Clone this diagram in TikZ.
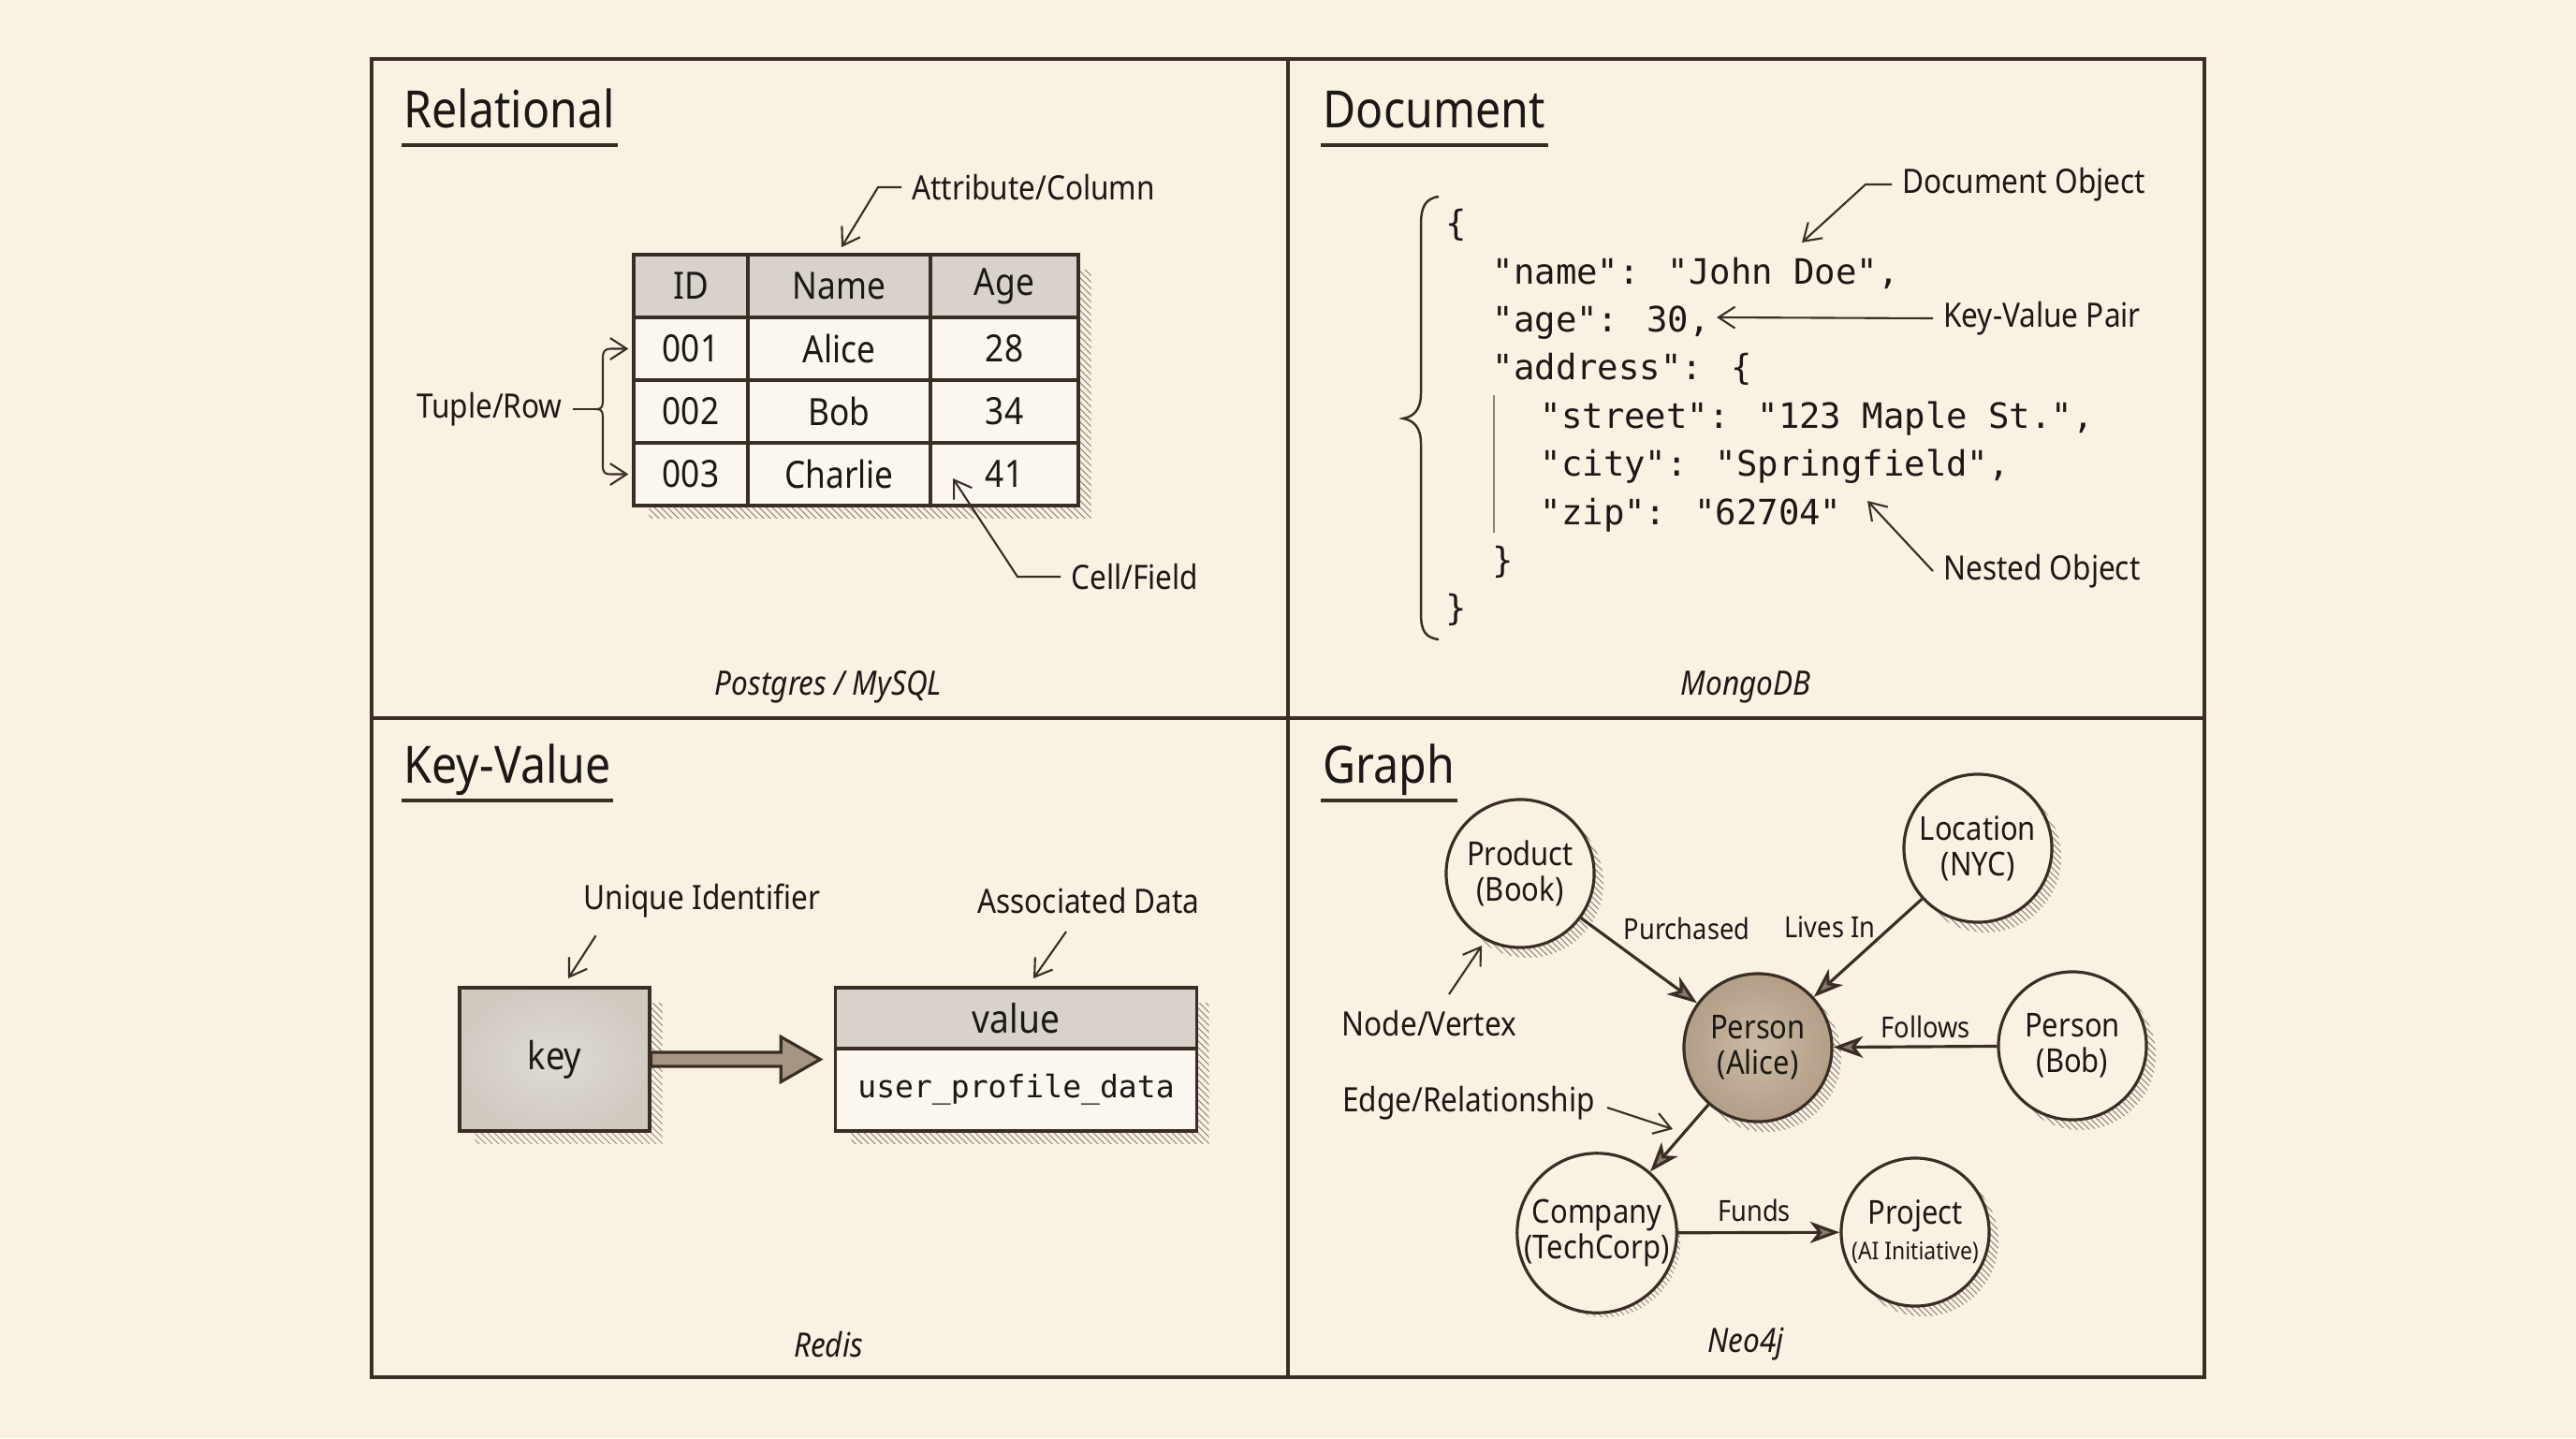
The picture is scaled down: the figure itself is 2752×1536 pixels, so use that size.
\documentclass[tikz,border=0pt]{standalone}
\usepackage{fontspec}
\setmainfont{Noto Sans}[FakeStretch=0.88]
\newfontfamily\monofont{DejaVu Sans Mono}
\usetikzlibrary{arrows.meta,calc}
\pgfdeclarelayer{bgl}
\pgfdeclarelayer{shd}
\pgfsetlayers{bgl,shd,main}
\definecolor{bgc}{HTML}{F9F1E2}
\definecolor{linec}{HTML}{3A2D24}
\definecolor{textc}{HTML}{1C1815}
\definecolor{headc}{HTML}{D8D2CA}
\definecolor{cellc}{HTML}{FBF7EF}
\definecolor{hatchc}{HTML}{968A80}
\definecolor{alicein}{HTML}{CCBBA4}
\definecolor{aliceout}{HTML}{B39E86}
\definecolor{keyin}{HTML}{E0DBD3}
\definecolor{keyout}{HTML}{D0CAC1}
\definecolor{arrfill}{HTML}{A69681}
\definecolor{tipfill}{HTML}{8A7B6D}
\definecolor{guidec}{HTML}{8C8178}
\newcommand\ttlfont{\fontsize{15.6}{18}\selectfont}
\newcommand\tabfont{\fontsize{11.4}{13}\selectfont}
\newcommand\lblfont{\fontsize{10.2}{12}\selectfont}
\newcommand\footfont{\fontsize{10.2}{12}\selectfont\itshape}
\newcommand\jsonfont{\monofont\fontsize{10.6}{12}\selectfont}
\newcommand\nodefont{\fontsize{10}{10.8}\selectfont}
\newcommand\elblfont{\fontsize{8.8}{10}\selectfont}
\newcommand\hatchrect[2]{%
  \begin{pgfonlayer}{shd}
  \begin{scope}
  \clip ($(#1)+(18,18)$) rectangle ($(#2)+(12,12)$);
  \foreach \k in {-80,...,45} {\draw[hatch] ($(#2)+(\k*7,0)$) ++(-420,-420) -- ++(460,460);}
  \end{scope}
  \end{pgfonlayer}}
\newcommand\hatchcirc[1]{%
  \begin{pgfonlayer}{shd}
  \begin{scope}
  \clip ($(#1.center)+(9,10)$) circle[radius=0.80cm];
  \foreach \k in {-26,...,26} {\draw[hatch] ($(#1.center)+(\k*6.5,0)$) ++(-200,-200) -- ++(400,400);}
  \end{scope}
  \end{pgfonlayer}}
\begin{document}
\begin{tikzpicture}[x=0.01cm,y=-0.01cm,
  frm/.style={draw=linec, line width=1pt},
  uline/.style={draw=linec, line width=1pt},
  ttl/.style={anchor=base west, inner sep=0pt, font=\ttlfont, text=textc},
  lbl/.style={inner sep=3pt, font=\lblfont, text=textc},
  foot/.style={inner sep=2pt, font=\footfont, text=textc},
  ann/.style={draw=linec, line width=0.6pt, -{Straight Barb[length=5pt,width=6.5pt]}},
  annl/.style={draw=linec, line width=0.6pt},
  hatch/.style={draw=hatchc, line width=0.3pt},
  cell/.style={draw=linec, line width=0.9pt, minimum height=0.67cm, inner sep=0pt, font=\tabfont, text=textc},
  hcell/.style={cell, fill=headc},
  bcell/.style={cell, fill=cellc},
  w1/.style={minimum width=1.22cm},
  w2/.style={minimum width=1.95cm},
  w3/.style={minimum width=1.58cm},
  json/.style={anchor=base west, inner sep=0pt, font=\jsonfont, text=textc},
  bracel/.style={draw=linec, line width=0.7pt},
  guide/.style={draw=guidec, line width=0.35pt},
  gnode/.style={circle, draw=linec, line width=0.9pt, fill=bgc, minimum size=1.58cm, inner sep=0pt, align=center, font=\nodefont, text=textc},
  gedge/.style={draw=linec, line width=0.9pt, -{Stealth[length=9pt,width=6.5pt,inset=2.5pt,fill=tipfill]}},
  elbl/.style={inner sep=1pt, font=\elblfont, text=textc},
  bigarr/.style={draw=linec, line width=0.9pt, fill=arrfill, line join=miter}
]
\begin{pgfonlayer}{bgl}
\fill[bgc] (0,0) rectangle (2752,1536);
\end{pgfonlayer}
\useasboundingbox (0,0) rectangle (2752,1536);

% frame
\draw[frm] (397,63) rectangle (2355,1471);
\draw[frm] (1376,63) -- (1376,1471);
\draw[frm] (397,767) -- (2355,767);

% titles
\node[ttl] (tRel) at (431,136) {Relational};
\node[ttl] (tDoc) at (1413,136) {Document};
\node[ttl] (tKV) at (431,836) {Key-Value};
\node[ttl] (tGr) at (1413,836) {Graph};
\foreach \t in {tRel,tDoc,tKV,tGr}
  \draw[uline] ($(\t.base west)+(-2,19)$) -- ($(\t.base east)+(2,19)$);

% ---------- Relational ----------
\node[hcell,w1] (h1) at (738,305.5) {ID};
\node[hcell,w2] (h2) at (896.5,305.5) {Name};
\node[hcell,w3] (h3) at (1073,305.5) {Age};
\node[bcell,w1] (r1a) at (738,372.5) {001};
\node[bcell,w2] (r1b) at (896.5,372.5) {Alice};
\node[bcell,w3] (r1c) at (1073,372.5) {28};
\node[bcell,w1] (r2a) at (738,439.5) {002};
\node[bcell,w2] (r2b) at (896.5,439.5) {Bob};
\node[bcell,w3] (r2c) at (1073,439.5) {34};
\node[bcell,w1] (r3a) at (738,506.5) {003};
\node[bcell,w2] (r3b) at (896.5,506.5) {Charlie};
\node[bcell,w3] (r3c) at (1073,506.5) {41};
\hatchrect{h1.north west}{r3c.south east}

\node[lbl, anchor=west] (attr) at (963,200) {Attribute/Column};
\coordinate (attrTip) at (899,264);
\draw[ann] (attr.west) -- ++(-25,0) -- (attrTip);

\node[lbl, anchor=east] (tuple) at (612,437) {Tuple/Row};
\draw[annl] (tuple.east) -- (637,437);
\draw[ann] (637,437) .. controls (644,437) and (644,433) .. (644,426) -- (644,383) .. controls (644,375) and (646,372.5) .. (653,372.5) -- ($(r1a.west)+(-4,0)$);
\draw[ann] (637,437) .. controls (644,437) and (644,441) .. (644,448) -- (644,497) .. controls (644,505) and (646,506.5) .. (653,506.5) -- ($(r3a.west)+(-4,0)$);

\node[lbl, anchor=west] (cellf) at (1133,616) {Cell/Field};
\coordinate (cellTip) at (1018,511);
\draw[ann] (cellf.west) -- ++(-46,0) -- (cellTip);

\node[foot] (fRel) at (885,734) {Postgres / MySQL};

% ---------- Document ----------
\draw[bracel] (1537,210) .. controls (1522,212) and (1518,222) .. (1518,240) -- (1518,420) .. controls (1518,438) and (1510,445) .. (1499,447) .. controls (1510,449) and (1518,456) .. (1518,474) -- (1518,655) .. controls (1518,673) and (1522,681) .. (1537,683);
\node[json] (j0) at (1544,251.6) {\{};
\node[json] (j1) at (1594,303) {"name": "John Doe",};
\node[json] (j2) at (1594,354.4) {"age": 30,};
\node[json] (j3) at (1594,405.8) {"address": \{};
\node[json] (j4) at (1645,457.2) {"street": "123 Maple St.",};
\node[json] (j5) at (1645,508.6) {"city": "Springfield",};
\node[json] (j6) at (1645,560) {"zip": "62704"};
\node[json] (j7) at (1594,611.4) {\}};
\node[json] (j8) at (1544,662.8) {\}};
\draw[guide] (1596,422) -- (1596,569);

\node[lbl, anchor=west] (docobj) at (2021,197) {Document Object};
\coordinate (docTip) at (1925,259);
\draw[ann] (docobj.west) -- ++(-28,0) -- (docTip);
\node[lbl, anchor=west] (kvp) at (2065,340) {Key-Value Pair};
\coordinate (kvTip) at (1834,339);
\draw[ann] (kvp.west) -- (kvTip);
\node[lbl, anchor=west] (nest) at (2065,610) {Nested Object};
\coordinate (nestTip) at (1995,535);
\draw[ann] (nest.west) -- (nestTip);

\node[foot] (fDoc) at (1865,734) {MongoDB};

% ---------- Key-Value ----------
\node[draw=linec, line width=0.9pt, inner color=keyin, outer color=keyout, minimum width=2.03cm, minimum height=1.53cm, inner sep=0pt, font=\fontsize{11.7}{13}\selectfont, text=textc] (key) at (592.5,1131.5) {key};
\node[draw=linec, line width=0.9pt, fill=headc, minimum width=3.85cm, minimum height=0.65cm, inner sep=0pt, font=\fontsize{12}{13}\selectfont, text=textc] (valh) at (1085.5,1087.5) {value};
\node[draw=linec, line width=0.9pt, fill=cellc, minimum width=3.85cm, minimum height=0.88cm, inner sep=0pt, font=\monofont\fontsize{9.4}{11}\selectfont, text=textc] (valb) at (1085.5,1164) {user\_profile\_data};
\hatchrect{key.north west}{key.south east}
\hatchrect{valh.north west}{valb.south east}
\coordinate (aS) at (key.east);
\coordinate (aT) at ($(valb.west |- key.east)+(-15,0)$);
\draw[bigarr] ($(aS)+(0,-7.5)$) -- ($(aT)+(-42,-7.5)$) -- ($(aT)+(-42,-24)$) -- (aT) -- ($(aT)+(-42,24)$) -- ($(aT)+(-42,7.5)$) -- ($(aS)+(0,7.5)$) -- cycle;

\node[lbl] (uid) at (750,962) {Unique Identifier};
\coordinate (uidTip) at (607,1045);
\draw[ann] ($(uid.south west)+(24,8)$) -- (uidTip);
\node[lbl] (assoc) at (1163,962) {Associated Data};
\coordinate (assocTip) at (1104,1045);
\draw[ann] ($(assoc.south)+(-24,8)$) -- (assocTip);

\node[foot] (fKV) at (885,1436) {Redis};

% ---------- Graph ----------
\node[gnode] (prod) at (1624,933) {Product\\(Book)};
\node[gnode] (loc) at (2113,906) {Location\\(NYC)};
\node[gnode, fill=none, inner color=alicein, outer color=aliceout] (alice) at (1878,1119) {Person\\(Alice)};
\node[gnode] (bob) at (2214,1117) {Person\\(Bob)};
\node[gnode] (comp) at (1706,1317) {Company\\(TechCorp)};
\node[gnode] (proj) at (2046,1316) {Project\\{\fontsize{7.4}{9}\selectfont(AI Initiative)}};
\foreach \n in {prod,loc,alice,bob,comp,proj} {\hatchcirc{\n}}

\draw[gedge] (prod) -- (alice);
\draw[gedge] (loc) -- (alice);
\draw[gedge] (bob) -- (alice);
\draw[gedge] (alice) -- (comp);
\draw[gedge] (comp) -- (proj);

\node[elbl] (lPur) at (1802,992) {Purchased};
\node[elbl] (lLiv) at (1955,990) {Lives In};
\node[elbl] (lFol) at (2057,1097) {Follows};
\node[elbl] (lFun) at (1874,1293) {Funds};

\node[lbl] (nv) at (1527,1093) {Node/Vertex};
\coordinate (nvTip) at (1583,1010);
\draw[ann] ($(nv.north)+(21,-6)$) -- (nvTip);
\node[lbl, anchor=west] (er) at (1423,1178) {Edge/Relationship};
\coordinate (erTip) at (1787,1206);
\draw[ann] ($(er.east)+(2,5)$) -- (erTip);

\node[foot] (fGr) at (1865,1436) {Neo4j};
\end{tikzpicture}
\end{document}
